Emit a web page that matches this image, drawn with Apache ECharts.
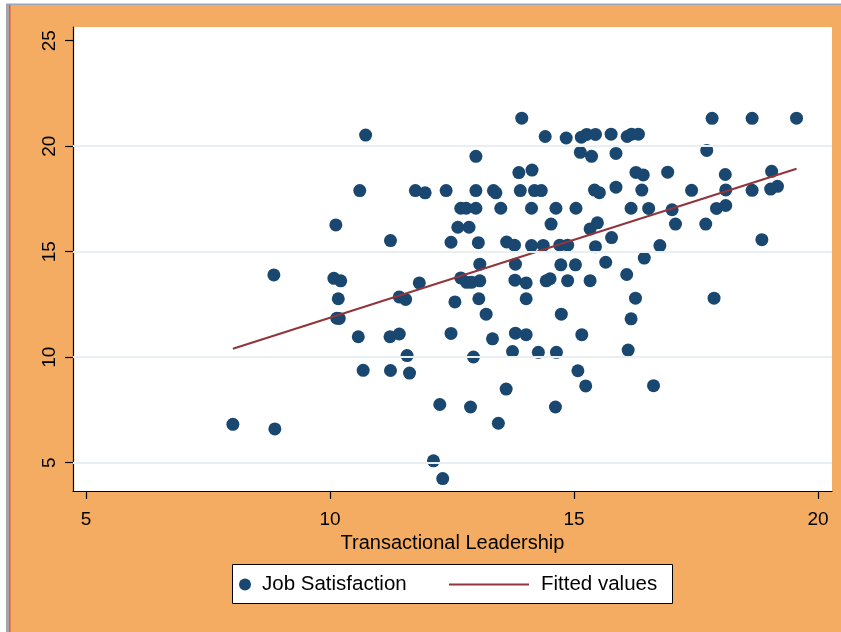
<!DOCTYPE html>
<html>
<head>
<meta charset="utf-8">
<title>Job Satisfaction vs Transactional Leadership</title>
<script src="https://cdn.jsdelivr.net/npm/echarts@6/dist/echarts.min.js"></script>
<style>
  html, body { margin: 0; padding: 0; background: #ffffff; }
  #chart { width: 841px; height: 632px; }
</style>
</head>
<body>
<div id="chart"></div>
<script>
// Transactional leadership score (x) for each respondent
const leadership = [
  10.73, 13.93, 17.83, 18.65, 19.56, 14.41, 14.84, 15.15, 15.26, 15.44, 15.76, 16.09, 16.18, 16.32,
  12.99, 15.13, 15.36, 15.86, 17.72,
  13.87, 14.14, 16.27, 16.42, 16.92, 18.10, 19.05,
  10.61, 11.75, 11.95, 12.38, 12.99, 13.35, 13.40, 13.90, 14.19, 14.33, 15.42, 15.52, 15.86, 16.39, 17.41, 18.11, 18.65, 19.03, 19.17,
  12.68, 12.79, 12.99, 13.50, 14.13, 14.63, 15.04, 16.17, 16.53, 17.01, 17.92, 18.11,
  10.12, 12.62, 12.85, 14.53, 15.33, 15.48, 17.08, 17.70,
  11.24, 12.48, 13.04, 13.62, 13.78, 14.13, 14.37, 14.71, 14.87, 15.44, 15.77, 16.76, 18.85,
  13.07, 13.80, 14.73, 15.03, 15.65, 16.44,
  8.85, 10.08, 10.22, 11.83, 12.68, 12.80, 12.90, 13.07, 13.79, 14.02, 14.43, 14.51, 14.87, 15.33, 16.08,
  10.17, 11.42, 11.55, 12.56, 13.05, 14.02, 16.26, 17.87,
  10.14, 10.19, 13.20, 14.74, 16.17,
  10.58, 11.23, 11.42, 12.48, 13.33, 13.80, 14.02, 15.16,
  11.58, 12.94, 13.74, 14.27, 14.64, 16.11,
  10.68, 11.24, 11.63, 15.08,
  13.61, 15.24, 16.63,
  12.25, 12.88, 14.62,
  8.01, 8.87, 13.45,
  12.12, 12.31
];

// Job satisfaction score (y) for the same respondents, in the same order
const satisfaction = [
  20.53, 21.33, 21.32, 21.32, 21.33, 20.46, 20.39, 20.43, 20.56, 20.56, 20.57, 20.46, 20.57, 20.57,
  19.52, 19.71, 19.52, 19.66, 19.80,
  18.75, 18.87, 18.76, 18.64, 18.77, 18.66, 18.81,
  17.90, 17.90, 17.79, 17.90, 17.90, 17.90, 17.79, 17.90, 17.90, 17.90, 17.92, 17.80, 18.06, 17.92, 17.91, 17.93, 17.91, 17.97, 18.10,
  17.06, 17.06, 17.06, 17.06, 17.06, 17.06, 17.06, 17.06, 17.05, 16.99, 17.05, 17.19,
  16.27, 16.16, 16.16, 16.31, 16.08, 16.37, 16.31, 16.31,
  15.53, 15.45, 15.43, 15.46, 15.31, 15.29, 15.30, 15.31, 15.31, 15.24, 15.67, 15.29, 15.57,
  14.41, 14.41, 14.38, 14.38, 14.50, 14.70,
  13.90, 13.74, 13.62, 13.52, 13.76, 13.55, 13.55, 13.62, 13.65, 13.52, 13.62, 13.72, 13.63, 13.63, 13.92,
  12.77, 12.86, 12.74, 12.62, 12.77, 12.77, 12.80, 12.80,
  11.85, 11.84, 12.04, 12.04, 11.82,
  10.97, 10.97, 11.10, 11.13, 10.87, 11.14, 11.07, 11.07,
  10.08, 10.01, 10.27, 10.23, 10.23, 10.34,
  9.38, 9.37, 9.25, 9.36,
  8.49, 8.64, 8.65,
  7.76, 7.64, 7.64,
  6.82, 6.60, 6.87,
  5.09, 4.25
];

// Fitted regression line: endpoints at the smallest and largest leadership score
const fittedX = [8.01, 19.56];
const fittedY = [10.40, 18.93];

// Axis ticks and gridlines
const xTicks = [5, 10, 15, 20];
const yTicks = [5, 10, 15, 20, 25];
const yGridLines = [5, 10, 15, 20];

const NAVY = '#1a476f';
const MAROON = '#90353b';
const ORANGE = '#f4ac62';
const FONT = 'Liberation Sans, Arial, sans-serif';

const scatterPoints = leadership.map((x, i) => [x, satisfaction[i]]);
const fittedPoints = fittedX.map((x, i) => [x, fittedY[i]]);

const chart = echarts.init(document.getElementById('chart'), null, { renderer: 'canvas' });

chart.setOption({
  animation: false,
  backgroundColor: '#ffffff',
  textStyle: { fontFamily: FONT, color: '#000' },
  graphic: [
    // outer frame: orange page with grey/red left edge and thin top rule
    { type: 'rect', z: -10, shape: { x: 10, y: 5, width: 831, height: 627 }, style: { fill: ORANGE } },
    { type: 'rect', z: -9, shape: { x: 6, y: 4, width: 3, height: 628 }, style: { fill: '#a6a6a6' } },
    { type: 'rect', z: -9, shape: { x: 9, y: 5, width: 1.5, height: 627 }, style: { fill: '#e8593c' } },
    { type: 'rect', z: -9, shape: { x: 6, y: 3.5, width: 835, height: 1.5 }, style: { fill: '#9aa3ba' } },
    // legend box
    { type: 'rect', z: 5, shape: { x: 232.5, y: 564.5, width: 440, height: 39 },
      style: { fill: '#ffffff', stroke: '#000000', lineWidth: 1 } }
  ],
  grid: {
    left: 73, right: 9, top: 27, bottom: 141,
    show: true, backgroundColor: '#ffffff', borderWidth: 0
  },
  xAxis: {
    type: 'value',
    min: 4.734, max: 20.287,
    name: 'Transactional Leadership',
    nameLocation: 'middle',
    nameGap: 42,
    nameTextStyle: { fontSize: 20, color: '#000', fontFamily: FONT },
    axisLine: { show: true, onZero: false, lineStyle: { color: '#000', width: 1.2 } },
    axisTick: { show: true, customValues: xTicks, length: 8, lineStyle: { color: '#000', width: 1.2 } },
    axisLabel: { customValues: xTicks, fontSize: 19, color: '#000', margin: 19, fontFamily: FONT },
    splitLine: { show: false }
  },
  yAxis: {
    type: 'value',
    min: 3.66, max: 25.65,
    axisLine: { show: true, onZero: false, lineStyle: { color: '#000', width: 1.2 } },
    axisTick: { show: true, customValues: yTicks, length: 8, lineStyle: { color: '#000', width: 1.2 } },
    axisLabel: { customValues: yTicks, rotate: 90, fontSize: 19, color: '#000', margin: 14, fontFamily: FONT },
    splitLine: { show: false }
  },
  legend: [
    {
      data: ['Job Satisfaction'],
      left: 239, top: 574, padding: 0,
      itemWidth: 12, itemHeight: 12,
      textStyle: { fontSize: 20.5, color: '#000', fontFamily: FONT, padding: [0, 0, 0, 6] },
      z: 10
    },
    {
      data: ['Fitted values'],
      left: 448, top: 574, padding: 0,
      itemWidth: 80, itemHeight: 12,
      itemStyle: { opacity: 0 },
      textStyle: { fontSize: 20.5, color: '#000', fontFamily: FONT, padding: [0, 0, 0, 7] },
      z: 10
    }
  ],
  series: [
    {
      // horizontal gridlines behind the markers
      type: 'line',
      name: 'gridlines',
      data: [],
      z: 0,
      silent: true,
      markLine: {
        silent: true,
        symbol: 'none',
        label: { show: false },
        lineStyle: { color: '#e8eff3', width: 2, type: 'solid' },
        data: yGridLines.map(v => ({ yAxis: v }))
      }
    },
    {
      type: 'scatter',
      name: 'Job Satisfaction',
      data: scatterPoints,
      symbol: 'circle',
      symbolSize: 13,
      itemStyle: { color: NAVY, opacity: 1 },
      z: 3
    },
    {
      type: 'line',
      name: 'Fitted values',
      data: fittedPoints,
      symbol: 'none',
      lineStyle: { color: MAROON, width: 2 },
      itemStyle: { color: MAROON },
      z: 4
    }
  ]
});
</script>
</body>
</html>
